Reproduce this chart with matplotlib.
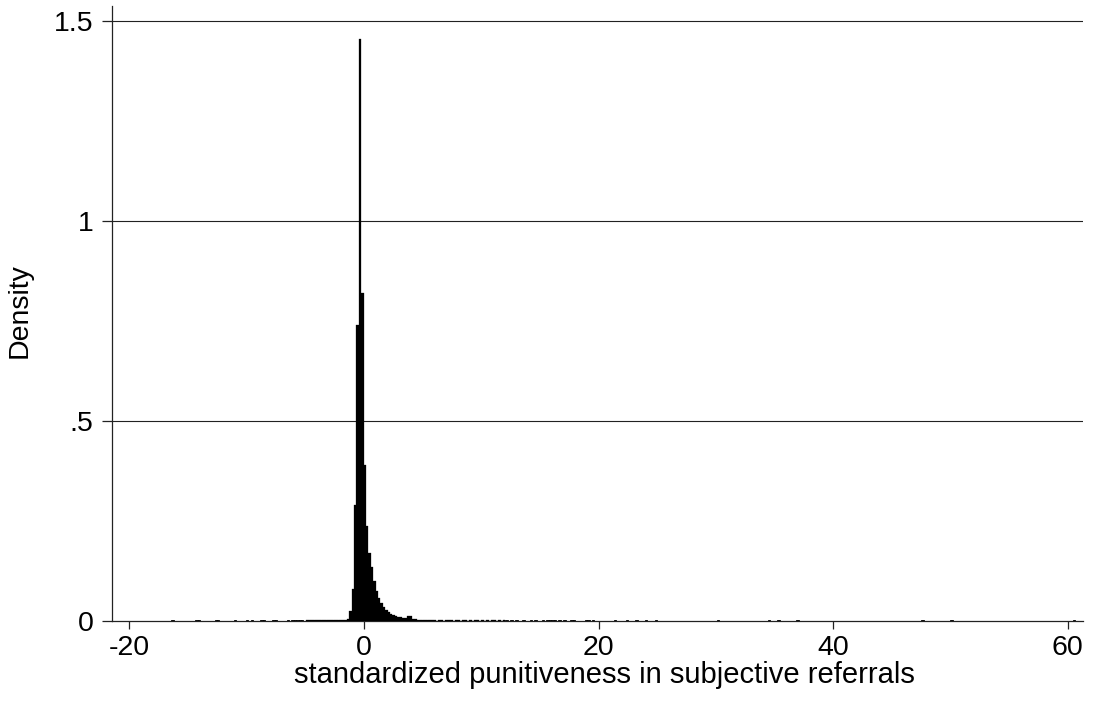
import numpy as np
import matplotlib.pyplot as plt

plt.rcParams['font.family'] = ['Liberation Sans', 'DejaVu Sans']

# histogram bin grid (width of one bin, left edge of the first bin)
bin_width = 0.205
bin_start = -4.95

# densities of the contiguous bins around the peak, from x = -4.95 upward
dens_core = [
    0.003, 0.002, 0.003, 0.002, 0.002, 0.003, 0.002, 0.002, 0.003, 0.002,
    0.003, 0.002, 0.002, 0.003, 0.003, 0.003, 0.003, 0.006, 0.026, 0.079,
    0.29, 0.74, 1.455, 0.82, 0.39, 0.237, 0.17, 0.135, 0.10, 0.075,
    0.058, 0.045, 0.036, 0.028, 0.022, 0.017, 0.014, 0.012, 0.011, 0.009,
    0.007, 0.007, 0.012, 0.012, 0.005, 0.004, 0.003, 0.003, 0.002, 0.003,
    0.002, 0.002, 0.003, 0.002, 0.0, 0.002, 0.002, 0.0, 0.002, 0.002,
    0.002, 0.0, 0.002, 0.002, 0.0, 0.002, 0.002, 0.0, 0.002, 0.0,
    0.002, 0.002, 0.0, 0.002, 0.0, 0.002, 0.0, 0.002, 0.002, 0.0,
    0.002, 0.0, 0.002,
]

# isolated bins in the tails (approximate value, density)
tail_x = [-16.39, -14.2, -14.05, -12.6, -12.45, -11.0, -10.0, -9.57, -8.75, -8.6,
          -7.75, -7.6, -6.59, -6.1, -5.9, -5.7, -5.5, -5.3,
          12.22, 12.59, 13.02, 13.64, 14.24, 14.58, 15.15, 15.75, 15.95, 16.15,
          16.35, 16.6, 17.05, 17.65, 17.9, 18.85, 19.05, 19.63, 21.48, 22.48,
          23.25, 24.04, 24.89, 30.26, 34.47, 35.27, 36.89, 47.68, 50.1, 60.53]
tail_dens = [0.003] * len(tail_x)

core_left = bin_start + bin_width * np.arange(len(dens_core))
tail_left = bin_start + np.floor((np.array(tail_x) - bin_start) / bin_width) * bin_width

fig = plt.figure(figsize=(10.94, 7.03), dpi=100)
ax = fig.add_axes([112 / 1094, 82 / 703, 971 / 1094, 615 / 703])

ax.bar(core_left, dens_core, width=bin_width, align='edge',
       color='black', edgecolor='black', linewidth=0.2, zorder=3)
ax.bar(tail_left, tail_dens, width=bin_width, align='edge',
       color='black', edgecolor='black', linewidth=0.6, zorder=3)

ax.set_xlim(-21.48, 61.3)
ax.set_ylim(0, 1.5375)

ax.set_yticks([0, 0.5, 1, 1.5])
ax.set_yticklabels(['0', '.5', '1', '1.5'])
ax.set_xticks([-20, 0, 20, 40, 60])
ax.set_xticklabels(['-20', '0', '20', '40', '60'])

for y in [0.5, 1, 1.5]:
    ax.axhline(y, color='#222222', linewidth=0.8, zorder=1)

for s in ['top', 'right']:
    ax.spines[s].set_visible(False)
for s in ['left', 'bottom']:
    ax.spines[s].set_linewidth(0.9)
    ax.spines[s].set_color('#222222')

ax.tick_params(axis='y', length=7.2, width=0.9, pad=6, labelsize=20.5, colors='black')
ax.tick_params(axis='x', length=5.8, width=0.9, pad=4, labelsize=20.5, colors='black')
ax.tick_params(axis='both', color='#222222')

ax.set_xlabel('standardized punitiveness in subjective referrals', fontsize=21)
ax.set_ylabel('Density', fontsize=20.5)
ax.xaxis.set_label_coords(0.507, -0.088)
ax.yaxis.set_label_coords(-0.095, 0.505)
ax.xaxis.label.set_va('center')
ax.yaxis.label.set_va('center')

fig.savefig('out.png', dpi=100)
